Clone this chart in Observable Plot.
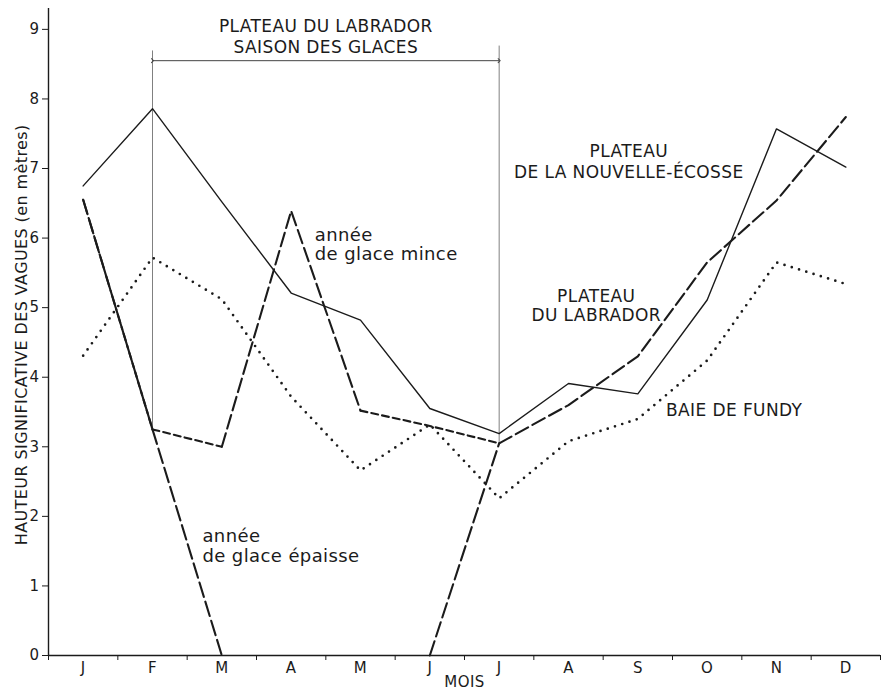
<!DOCTYPE html>
<html>
<head>
<meta charset="utf-8">
<script src="https://cdn.jsdelivr.net/npm/d3@7"></script>
<script src="https://cdn.jsdelivr.net/npm/@observablehq/plot@0.6"></script>
<style>
  body { margin: 0; background: #fff; }
  #chart svg { display: block; }
  #chart text { letter-spacing: 0.4px; }
</style>
</head>
<body>
<div id="chart"></div>
<script>
// Hauteur significative des vagues (m), moyenne mensuelle
const mois = ["J", "F", "M", "A", "M", "J", "J", "A", "S", "O", "N", "D"];
const nouvelleEcosse = [6.75, 7.86, 6.52, 5.21, 4.82, 3.55, 3.19, 3.91, 3.76, 5.11, 7.57, 7.02];
const baieDeFundy = [4.31, 5.72, 5.12, 3.72, 2.66, 3.32, 2.26, 3.08, 3.40, 4.24, 5.65, 5.34];
const labradorGlaceMince = [6.55, 3.25, 3.00, 6.39, 3.52, 3.30, 3.05, 3.60, 4.30, 5.65, 6.54, 7.74];
const labradorGlaceEpaisse = [6.55, 3.25, 0, 0, 0, 0, 3.05];
const yTicks = [0, 1, 2, 3, 4, 5, 6, 7, 8, 9];

// saison des glaces du plateau du Labrador : février -> juillet
const saisonDebut = 1, saisonFin = 6;

// tracé du Labrador (glace mince) : tronçons en tirets longs / courts
const mincesLongs = [[0, 1], [2, 3, 4], [6, 7, 8, 9, 10, 11]];
const mincesCourts = [[1, 2], [4, 5, 6]];
// glace épaisse : montée et descente en tirets, plancher nul confondu avec l'axe
const epaisseTirets = [[0, 1, 2], [5, 6]];
const epaissePlancher = [[2, 3, 4, 5]];

const xc = i => i + 0.5; // centre du mois
const serie = values => values.map((v, i) => ({x: xc(i), y: v}));
const troncons = (values, runs) =>
  runs.flatMap((run, k) => run.map(i => ({x: xc(i), y: values[i], z: k})));

const ink = "#1b1b1b";
const font = "DejaVu Sans";

const plot = Plot.plot({
  width: 888,
  height: 690,
  marginLeft: 48,
  marginRight: 8,
  marginTop: 8,
  marginBottom: 35,
  x: {domain: [0, 12]},
  y: {domain: [0, 9.3]},
  style: {fontFamily: font, fontSize: "15px", color: ink, background: "#fff"},
  marks: [
    // repères de la saison des glaces
    Plot.ruleX([saisonDebut], {x: d => xc(d), y1: labradorGlaceMince[saisonDebut], y2: 8.69, stroke: "#808080", strokeWidth: 1}),
    Plot.ruleX([saisonFin], {x: d => xc(d), y1: labradorGlaceMince[saisonFin], y2: 8.76, stroke: "#808080", strokeWidth: 1}),
    Plot.link([0], {x1: xc(saisonDebut), x2: xc(saisonFin), y1: 8.55, y2: 8.55,
      stroke: "#444", strokeWidth: 1, markerStart: "arrow", markerEnd: "arrow"}),

    // séries
    Plot.line(serie(nouvelleEcosse), {x: "x", y: "y", stroke: ink, strokeWidth: 1.4}),
    Plot.line(serie(baieDeFundy), {x: "x", y: "y", stroke: ink, strokeWidth: 2.7,
      strokeDasharray: "0,7.6", strokeLinecap: "round"}),
    Plot.line(troncons(labradorGlaceMince, mincesLongs), {x: "x", y: "y", z: "z",
      stroke: ink, strokeWidth: 2.1, strokeDasharray: "14,5"}),
    Plot.line(troncons(labradorGlaceMince, mincesCourts), {x: "x", y: "y", z: "z",
      stroke: ink, strokeWidth: 2.1, strokeDasharray: "7,4"}),
    Plot.line(troncons(labradorGlaceEpaisse, epaisseTirets), {x: "x", y: "y", z: "z",
      stroke: ink, strokeWidth: 2.1, strokeDasharray: "15,5"}),
    Plot.line(troncons(labradorGlaceEpaisse, epaissePlancher), {x: "x", y: "y", z: "z",
      stroke: ink, strokeWidth: 1}),

    // axes
    Plot.ruleY([0], {stroke: ink, strokeWidth: 1.4}),
    Plot.ruleX([0], {stroke: ink, strokeWidth: 1.4}),
    Plot.axisX(d3.range(0, 13), {tickSize: 5, tickFormat: () => "", label: null, stroke: ink}),
    Plot.axisX(mois.map((_, i) => xc(i)), {tickSize: 0, tickPadding: 7, label: null,
      tickFormat: d => mois[Math.floor(d)], fontSize: 15}),
    Plot.axisY(yTicks, {tickSize: 6, tickPadding: 3, label: null, fontSize: 15,
      stroke: ink, tickFormat: d => String(d)}),
    Plot.text(["MOIS"], {frameAnchor: "bottom", dy: 31, fontSize: 15}),
    Plot.text(["HAUTEUR SIGNIFICATIVE DES VAGUES (en mètres)"], {
      x: -0.39, y: 4.61, rotate: -90, textAnchor: "middle", fontSize: 16}),

    // étiquettes
    Plot.text(["PLATEAU DU LABRADOR\nSAISON DES GLACES"], {x: 4.0, y: 8.905, fontSize: 17, lineHeight: 1.2}),
    Plot.text(["PLATEAU\nDE LA NOUVELLE-ÉCOSSE"], {x: 8.37, y: 7.105, fontSize: 17, lineHeight: 1.22}),
    Plot.text(["PLATEAU\nDU LABRADOR"], {x: 7.90, y: 5.03, fontSize: 17, lineHeight: 1.08}),
    Plot.text(["BAIE DE FUNDY"], {x: 9.89, y: 3.52, fontSize: 17}),
    Plot.text(["année\nde glace mince"], {x: 3.84, y: 5.915, fontSize: 18, lineHeight: 1.06, textAnchor: "start"}),
    Plot.text(["année\nde glace épaisse"], {x: 2.22, y: 1.58, fontSize: 18, lineHeight: 1.1, textAnchor: "start"})
  ]
});

document.getElementById("chart").append(plot);
</script>
</body>
</html>
